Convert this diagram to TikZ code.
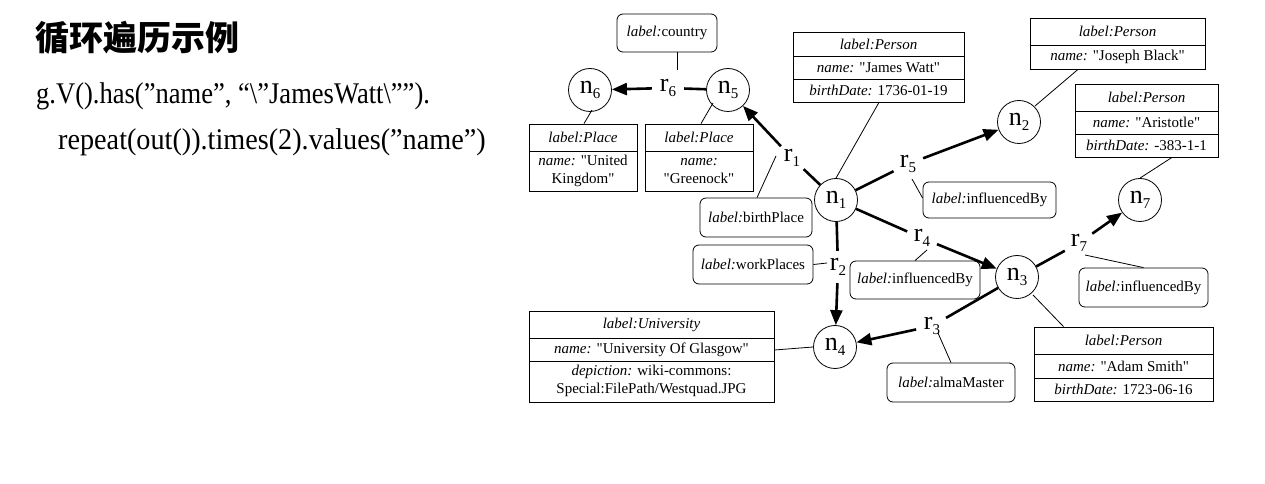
\documentclass[tikz,border=0pt]{standalone}
\usepackage{fontspec}
\setmainfont{Liberation Serif}[Ligatures=TeXOff]
\newfontfamily\cjk{Noto Sans CJK SC}
\newfontfamily\codefonta[FakeStretch=0.885]{Liberation Serif}
\newfontfamily\codefontb[FakeStretch=0.94]{Liberation Serif}
\usetikzlibrary{arrows.meta}
\newcommand\sbx[1]{\raisebox{-4.5bp}{\fontsize{15bp}{15bp}\selectfont #1}}
\tikzset{
  ent/.style={circle,draw,line width=0.8bp,minimum size=43bp,inner sep=0pt,font=\fontsize{26bp}{26bp}\selectfont},
  rel/.style={circle,minimum size=32bp,inner sep=0pt,font=\fontsize{26bp}{26bp}\selectfont},
  thk/.style={line width=2.6bp},
  arr/.style={line width=2.6bp,-{Triangle[length=15bp,width=12bp]}},
  con/.style={line width=0.8bp},
  pbox/.style={draw,line width=0.8bp,inner sep=0pt},
  lbox/.style={draw,rounded corners=6bp,line width=0.8bp,inner sep=0pt,font=\fontsize{15bp}{18bp}\selectfont},
  ptxt/.style={inner sep=0pt,font=\fontsize{15bp}{18bp}\selectfont,align=center},
}
\begin{document}
\begin{tikzpicture}[x=1bp,y=-1bp]
\fill[white] (0,0) rectangle (1265,484);
\useasboundingbox (0,0) rectangle (1265,484);

% left text
\node[anchor=base west,inner sep=0pt,font=\cjk\bfseries\fontsize{34bp}{34bp}\selectfont] (title) at (35,51) {循环遍历示例};
\node[anchor=base west,inner sep=0pt,font=\codefonta\fontsize{30bp}{30bp}\selectfont] (code1) at (36,104) {g.V().has(”name”, “\textbackslash”JamesWatt\textbackslash””).};
\node[anchor=base west,inner sep=0pt,font=\codefontb\fontsize{30bp}{30bp}\selectfont] (code2) at (58,150) {repeat(out()).times(2).values(”name”)};

% entity nodes
\node[ent] (n6) at (590,90) {n\sbx{6}};
\node[ent] (n5) at (728,90) {n\sbx{5}};
\node[ent] (n1) at (836,200) {n\sbx{1}};
\node[ent] (n2) at (1019,122) {n\sbx{2}};
\node[ent] (n7) at (1140,200) {n\sbx{7}};
\node[ent] (n3) at (1017,277) {n\sbx{3}};
\node[ent] (n4) at (835,347) {n\sbx{4}};

% relation labels
\node[rel] (r6) at (668,88) {r\sbx{6}};
\node[rel] (r1) at (792,158) {r\sbx{1}};
\node[rel] (r5) at (908,164) {r\sbx{5}};
\node[rel] (r4) at (922,238) {r\sbx{4}};
\node[rel] (r2) at (838,267) {r\sbx{2}};
\node[rel] (r3) at (932,326) {r\sbx{3}};
\node[rel] (r7) at (1079,243) {r\sbx{7}};

% thick edges
\draw[thk] (n5) -- (r6); \draw[arr] (r6) -- (n6);
\draw[thk] (n1) -- (r1); \draw[arr] (r1) -- (n5);
\draw[thk] (n1) -- (r5); \draw[arr] (r5) -- (n2);
\draw[thk] (n1) -- (r4); \draw[arr] (r4) -- (n3);
\draw[thk] (n1) -- (r2); \draw[arr] (r2) -- (n4);
\draw[thk] (n3) -- (r3); \draw[arr] (r3) -- (n4);
\draw[thk] (n3) -- (r7); \draw[arr] (r7) -- (n7);

% rounded label boxes
\node[lbox,minimum width=100bp,minimum height=38bp] (cty) at (667,33) {\textit{label:}country};
\node[lbox,minimum width=112bp,minimum height=39bp] (bp) at (756,217.5) {\textit{label:}birthPlace};
\node[lbox,minimum width=120bp,minimum height=39bp] (wp) at (753,264.5) {\textit{label:}workPlaces};
\node[lbox,minimum width=133bp,minimum height=36bp] (ib5) at (989.5,200) {\textit{label:}influencedBy};
\node[lbox,minimum width=130bp,minimum height=38bp] (ib4) at (915,280) {\textit{label:}influencedBy};
\node[lbox,minimum width=129bp,minimum height=39bp] (ib7) at (1143.5,287.5) {\textit{label:}influencedBy};
\node[lbox,minimum width=128bp,minimum height=39bp] (am) at (951,382.5) {\textit{label:}almaMaster};

% property boxes
\node[pbox,minimum width=108bp,minimum height=67bp] (pl6) at (583,157.5) {};
\draw[con] (529,151) -- (637,151);
\node[ptxt] (pl6a) at (583,137.5) {\textit{label:Place}};
\node[ptxt] (pl6b) at (583,171) {\textit{name:} "United\\Kingdom"};

\node[pbox,minimum width=108bp,minimum height=67bp] (pl5) at (699,157.5) {};
\draw[con] (645,151) -- (753,151);
\node[ptxt] (pl5a) at (699,137.5) {\textit{label:Place}};
\node[ptxt] (pl5b) at (699,171) {\textit{name:}\\"Greenock"};

\node[pbox,minimum width=171bp,minimum height=70bp] (jw) at (878.5,67) {};
\draw[con] (793,56) -- (964,56);
\draw[con] (793,79) -- (964,79);
\node[ptxt] (jwa) at (878.5,44) {\textit{label:Person}};
\node[ptxt] (jwb) at (878.5,67.5) {\textit{name:} "James Watt"};
\node[ptxt] (jwc) at (878.5,90.5) {\textit{birthDate:} 1736-01-19};

\node[pbox,minimum width=175bp,minimum height=51bp] (jb) at (1117.5,43.5) {};
\draw[con] (1030,45) -- (1205,45);
\node[ptxt] (jba) at (1117.5,31.5) {\textit{label:Person}};
\node[ptxt] (jbb) at (1117.5,57) {\textit{name:} "Joseph Black"};

\node[pbox,minimum width=143bp,minimum height=73bp] (ar) at (1146.5,120.5) {};
\draw[con] (1075,111) -- (1218,111);
\draw[con] (1075,134) -- (1218,134);
\node[ptxt] (ara) at (1146.5,97.5) {\textit{label:Person}};
\node[ptxt] (arb) at (1146.5,122.5) {\textit{name:} "Aristotle"};
\node[ptxt] (arc) at (1146.5,145.5) {\textit{birthDate:} -383-1-1};

\node[pbox,minimum width=179bp,minimum height=74bp] (as) at (1123.5,364) {};
\draw[con] (1034,354) -- (1213,354);
\draw[con] (1034,378) -- (1213,378);
\node[ptxt] (asa) at (1123.5,340.5) {\textit{label:Person}};
\node[ptxt] (asb) at (1123.5,366) {\textit{name:} "Adam Smith"};
\node[ptxt] (asc) at (1123.5,389.5) {\textit{birthDate:} 1723-06-16};

\node[pbox,minimum width=245bp,minimum height=91bp] (uv) at (651.5,356.5) {};
\draw[con] (529,338) -- (774,338);
\draw[con] (529,361) -- (774,361);
\node[ptxt] (uva) at (651.5,324.5) {\textit{label:University}};
\node[ptxt] (uvb) at (651.5,349.5) {\textit{name:} "University Of Glasgow"};
\node[ptxt] (uvc) at (651.5,381) {\textit{depiction:} wiki-commons:\\Special:FilePath/Westquad.JPG};

% thin connectors
\draw[con] ([shift={(10,0)}]cty.south) -- ([shift={(9,-18)}]r6.center);
\draw[con] ([shift={(2,20)}]n6.center) -- ([shift={(1,0)}]pl6.north);
\draw[con] ([shift={(-15,13)}]n5.center) -- ([shift={(2,0)}]pl5.north);
\draw[con] ([shift={(1,0)}]bp.north) -- ([shift={(-16,-2)}]r1.center);
\draw[con] (n1.north) -- ([shift={(0.5,0)}]jw.south);
\draw[con] ([shift={(4,15)}]r5.center) -- ([shift={(0,-2)}]ib5.west);
\draw[con] ([shift={(5,12)}]r4.center) -- (ib4.north);
\draw[con] ([shift={(-11,-4)}]r2.center) -- (wp.east);
\draw[con] (n4.west) -- ([shift={(0,-6.5)}]uv.east);
\draw[con] ([shift={(6,7)}]r3.center) -- (am.north);
\draw[con] ([shift={(16,18)}]n3.center) -- ([shift={(-60,0)}]as.north);
\draw[con] ([shift={(6,12)}]r7.center) -- (ib7.north);
\draw[con] ([shift={(16,-16)}]n2.center) -- ([shift={(-39.5,0)}]jb.south);
\draw[con] (n7.north) -- ([shift={(25.5,0)}]ar.south);
\end{tikzpicture}
\end{document}
